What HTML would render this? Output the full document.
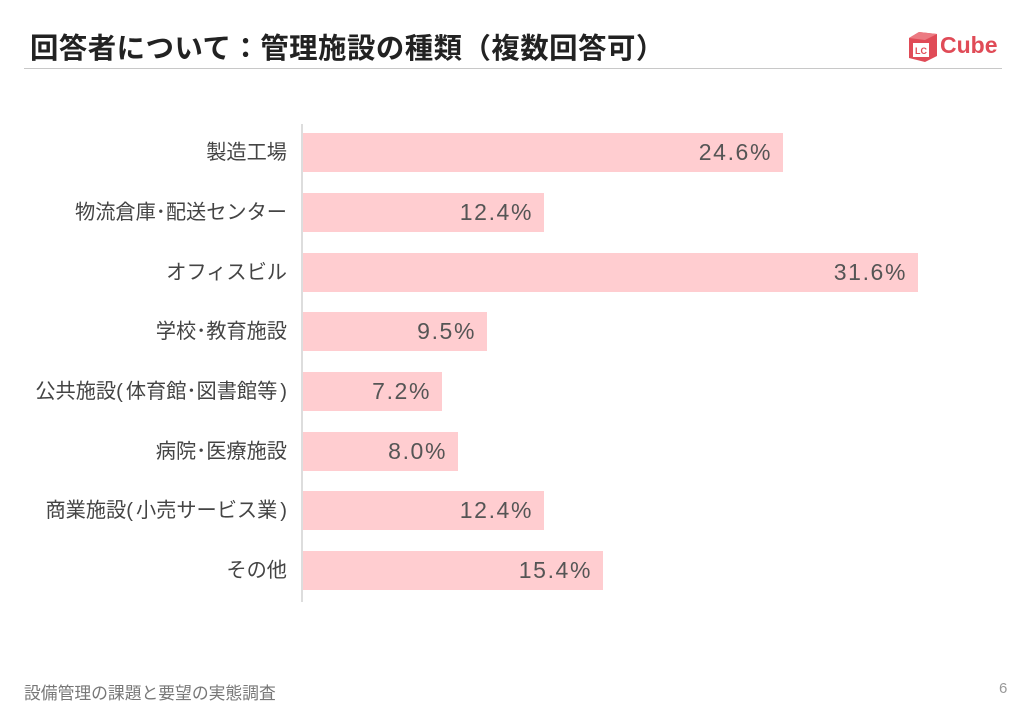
<!DOCTYPE html><html><head><meta charset="utf-8"><style>
body{margin:0;width:1024px;height:724px;background:#fff;position:relative;overflow:hidden;font-family:"Liberation Sans","Noto Sans CJK JP",sans-serif}
.t{position:absolute;left:30px;top:26px;font-size:28.4px;font-weight:bold;color:#222;letter-spacing:0.5px;white-space:nowrap}
.hl{position:absolute;left:24px;top:68px;width:978px;height:1px;background:#c8c8c8}
.ax{position:absolute;left:301px;top:124px;width:2px;height:478px;background:#ddd}
.bar{position:absolute;left:303px;height:39px;background:#ffcdd0}
.v{position:absolute;right:11px;top:0;line-height:39px;font-size:23px;color:#555;letter-spacing:1.6px}
.l{position:absolute;right:737px;font-size:20.2px;color:#444;line-height:39px;white-space:nowrap;margin-top:1px}
.f{position:absolute;left:24px;top:680px;font-size:16.8px;color:#777}
.p{position:absolute;left:999px;top:680px;font-size:15px;color:#999}
</style></head><body>
<div class="t">回答者について：管理施設の種類（複数回答可）</div>
<div class="hl"></div>
<svg style="position:absolute;left:905px;top:30px" width="36" height="34"><polygon points="4,8 14,2 32,4 32,26 20,32 4,28" fill="#e04b57"/><polygon points="4,8 14,2 32,4 20,10" fill="#ec7a82"/><rect x="8" y="13" width="16" height="14" fill="#fff"/><text x="16" y="24" font-size="9" font-weight="bold" fill="#e04b57" text-anchor="middle" font-family="Liberation Sans">LC</text></svg>
<div style="position:absolute;left:940px;top:32px;font-size:23px;font-weight:bold;color:#e04b57">Cube</div>
<div class="ax"></div>
<div class="l" style="top:133px">製造工場</div><div class="bar" style="top:133px;width:480px"><span class="v">24.6%</span></div>
<div class="l" style="top:193px">物流倉庫･配送センター</div><div class="bar" style="top:193px;width:241px"><span class="v">12.4%</span></div>
<div class="l" style="top:253px">オフィスビル</div><div class="bar" style="top:253px;width:615px"><span class="v">31.6%</span></div>
<div class="l" style="top:312px">学校･教育施設</div><div class="bar" style="top:312px;width:184px"><span class="v">9.5%</span></div>
<div class="l" style="top:372px">公共施設<span style="letter-spacing:3px">(</span>体育館･図書館等<span style="margin-left:3px">)</span></div><div class="bar" style="top:372px;width:139px"><span class="v">7.2%</span></div>
<div class="l" style="top:432px">病院･医療施設</div><div class="bar" style="top:432px;width:155px"><span class="v">8.0%</span></div>
<div class="l" style="top:491px">商業施設<span style="letter-spacing:3px">(</span>小売サービス業<span style="margin-left:3px">)</span></div><div class="bar" style="top:491px;width:241px"><span class="v">12.4%</span></div>
<div class="l" style="top:551px">その他</div><div class="bar" style="top:551px;width:300px"><span class="v">15.4%</span></div>
<div class="f">設備管理の課題と要望の実態調査</div>
<div class="p">6</div>
</body></html>
